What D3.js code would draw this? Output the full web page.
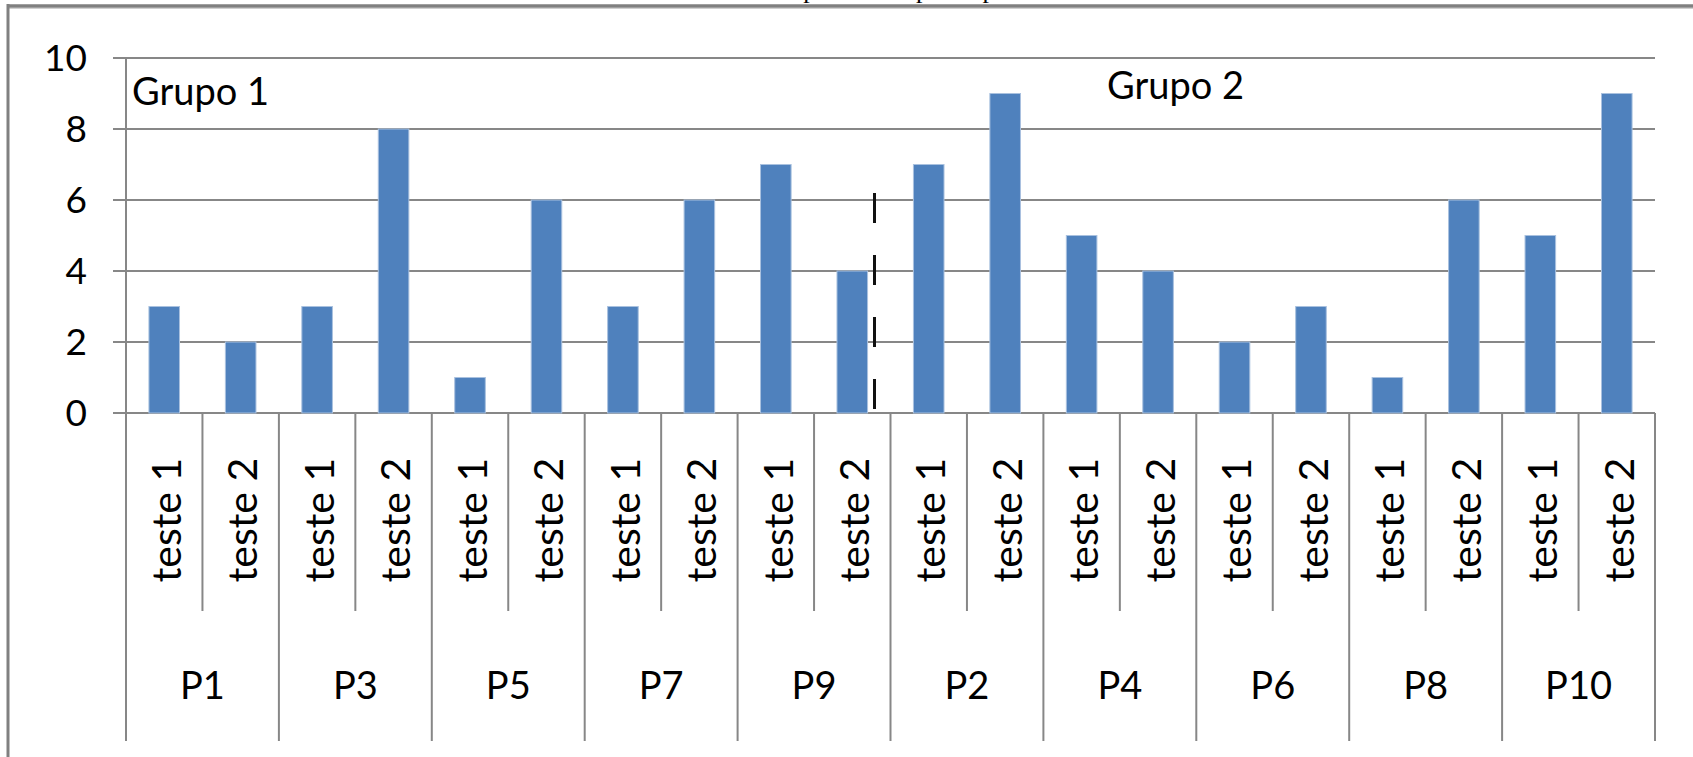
<!DOCTYPE html>
<html>
<head>
<meta charset="utf-8">
<script src="https://cdn.jsdelivr.net/npm/d3@7"></script>
<style>
  html, body { margin: 0; padding: 0; background: #fff; }
  svg { display: block; }
</style>
</head>
<body>
<div id="chart"></div>
<script>
// participantes na ordem do gráfico (grupo 1, depois grupo 2)
const participants = ['P1', 'P3', 'P5', 'P7', 'P9', 'P2', 'P4', 'P6', 'P8', 'P10'];
const tests = ['teste 1', 'teste 2'];
const groups = ['Grupo 1', 'Grupo 2'];
// valores: [teste 1, teste 2] por participante
const scores = [
  [3, 2], [3, 8], [1, 6], [3, 6], [7, 4],
  [7, 9], [5, 4], [2, 3], [1, 6], [5, 9]
];
const yTicks = [0, 2, 4, 6, 8, 10];

// linhas planas para o eixo de categorias
const rows = [];
participants.forEach((p, i) => {
  tests.forEach((t, j) => {
    rows.push({ key: p + '|' + t, participant: p, test: t, value: scores[i][j] });
  });
});

const W = 1693, H = 757;
const plotLeft = 126, plotRight = 1655, plotTop = 58, plotBase = 413;
const innerBottom = 611, outerBottom = 741;
const gridColor = '#878787';
const font = 'Lato, "Open Sans", sans-serif';

const svg = d3.select('#chart')
  .append('svg')
  .attr('width', W)
  .attr('height', H);

// legenda de figura cortada no topo (só se vêem as hastes)
svg.append('text')
  .attr('x', 890)
  .attr('y', -2)
  .attr('text-anchor', 'middle')
  .attr('font-family', '"Liberation Serif", "DejaVu Serif", serif')
  .attr('font-size', 26)
  .attr('fill', '#000')
  .text('Desempenho dos participantes');

// moldura
svg.append('line')
  .attr('x1', 8).attr('x2', W).attr('y1', 6).attr('y2', 6)
  .attr('stroke', '#808080').attr('stroke-width', 3.5);
svg.append('line')
  .attr('x1', 8).attr('x2', W).attr('y1', 8.5).attr('y2', 8.5)
  .attr('stroke', '#d0d0d0').attr('stroke-width', 1);
svg.append('line')
  .attr('x1', 8).attr('x2', 8).attr('y1', 4).attr('y2', H)
  .attr('stroke', '#808080').attr('stroke-width', 3);

// escalas
const x = d3.scaleBand()
  .domain(rows.map(d => d.key))
  .range([plotLeft, plotRight])
  .paddingInner(0)
  .paddingOuter(0);

const barW = x.bandwidth() / 2.5; // gap width 150%

const y = d3.scaleLinear()
  .domain([0, 10])
  .range([plotBase, plotTop]);

// grelha + marcas do eixo
svg.selectAll('.grid')
  .data(yTicks)
  .enter()
  .append('line')
  .attr('x1', plotLeft - 13)
  .attr('x2', plotRight)
  .attr('y1', d => y(d))
  .attr('y2', d => y(d))
  .attr('stroke', gridColor)
  .attr('stroke-width', 2);

svg.selectAll('.ylab')
  .data(yTicks)
  .enter()
  .append('text')
  .attr('x', 87)
  .attr('y', d => y(d))
  .attr('dy', '0.36em')
  .attr('text-anchor', 'end')
  .attr('font-family', font)
  .attr('font-size', 37)
  .attr('fill', '#000')
  .text(d => d);

// barras
svg.selectAll('.bar')
  .data(rows)
  .enter()
  .append('rect')
  .attr('x', d => x(d.key) + (x.bandwidth() - barW) / 2)
  .attr('y', d => y(d.value))
  .attr('width', barW)
  .attr('height', d => y(0) - y(d.value))
  .attr('fill', '#4f81bd')
  .attr('stroke', '#a9c1df')
  .attr('stroke-width', 1);

// eixo vertical
svg.append('line')
  .attr('x1', plotLeft).attr('x2', plotLeft)
  .attr('y1', plotTop).attr('y2', plotBase)
  .attr('stroke', gridColor).attr('stroke-width', 2);

// separadores do eixo de categorias (dois níveis)
const edges = d3.range(rows.length + 1);
svg.selectAll('.sep')
  .data(edges)
  .enter()
  .append('line')
  .attr('x1', i => plotLeft + i * x.step())
  .attr('x2', i => plotLeft + i * x.step())
  .attr('y1', plotBase)
  .attr('y2', i => (i % 2 === 0 ? outerBottom : innerBottom))
  .attr('stroke', gridColor)
  .attr('stroke-width', 2);

// rótulos teste 1 / teste 2 (rodados)
svg.selectAll('.tlab')
  .data(rows)
  .enter()
  .append('text')
  .attr('transform', d => `translate(${x(d.key) + x.bandwidth() / 2 + 2},520) rotate(-90)`)
  .attr('text-anchor', 'middle')
  .attr('dy', '0.36em')
  .attr('font-family', font)
  .attr('font-size', 41)
  .attr('fill', '#000')
  .text(d => d.test);

// rótulos dos participantes
svg.selectAll('.plab')
  .data(participants)
  .enter()
  .append('text')
  .attr('x', p => x(p + '|' + tests[0]) + x.step())
  .attr('y', 685)
  .attr('dy', '0.36em')
  .attr('text-anchor', 'middle')
  .attr('font-family', font)
  .attr('font-size', 38)
  .attr('fill', '#000')
  .text(p => p);

// divisória entre grupos (tracejada)
const splitX = x(participants[5] + '|' + tests[0]) - 16;
svg.append('line')
  .attr('x1', splitX).attr('x2', splitX)
  .attr('y1', y(6.2)).attr('y2', y(0.1))
  .attr('stroke', '#111')
  .attr('stroke-width', 3)
  .attr('stroke-dasharray', '30 32');

// nomes dos grupos
svg.append('text')
  .attr('x', plotLeft + 6)
  .attr('y', 105)
  .attr('font-family', font)
  .attr('font-size', 38)
  .attr('fill', '#000')
  .text(groups[0]);

svg.append('text')
  .attr('x', 1107)
  .attr('y', 99)
  .attr('font-family', font)
  .attr('font-size', 38)
  .attr('fill', '#000')
  .text(groups[1]);
</script>
</body>
</html>
